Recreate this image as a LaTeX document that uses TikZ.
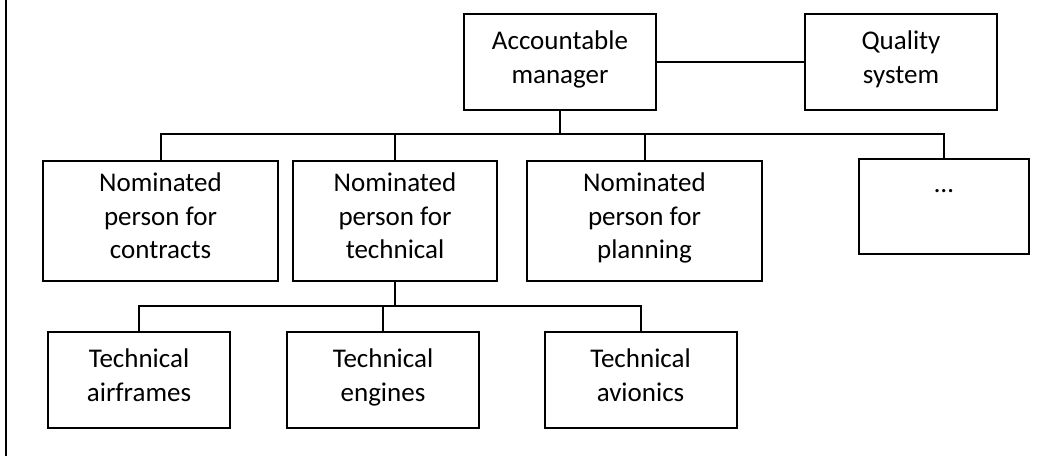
\documentclass[tikz,border=0pt]{standalone}
\usepackage{fontspec}
\setmainfont{Carlito}
\usepackage{tikz}
\tikzset{
	% box styles for the organisation chart
	org box/.style={rectangle,draw,line width=1pt,align=center,inner sep=0,
		execute at begin node=\strut, execute at end node=\strut},
	top box/.style={org box,minimum width=96pt,minimum height=48pt},
	mid box/.style={org box,minimum height=60pt},
	low box/.style={org box,minimum width=96pt,minimum height=48pt},
	link/.style={line width=1pt}
}

\begin{document}
\begin{tikzpicture}[x=0.5pt, y=-0.5pt, font=\fontsize{13.5}{16.8}\selectfont]
  \useasboundingbox (0,0) rectangle (1053,456);
  \draw[line width=1pt] (6,0) -- (6,456);

  \node(am) at (560, 62) [top box]{Accountable\\manager};
  \node(qs) at (901, 62) [top box]{Quality\\system};
  \draw[link] (am.east) -- (qs.west);

  \node(contracts) at (160.5, 221) [mid box, minimum width=117.5pt]{Nominated\\person for\\contracts};
  \node(technical) at (395, 221) [mid box, minimum width=102pt]{Nominated\\person for\\technical};
  \node(planning) at (644.5, 221) [mid box, minimum width=117.5pt]{Nominated\\person for\\planning};
  \node(dots) at (944, 206.5) [org box, minimum width=85pt, minimum height=47.5pt]{…\\[-6pt]\mbox{}};

  \coordinate(bus1) at (560, 134);
  \draw[link] (am.south) -- (bus1);
  \foreach \n in {contracts, technical, planning, dots}
    \draw[link] (bus1) -| (\n.north);

  \node(airframes) at (139, 380) [low box, minimum width=91pt]{Technical\\airframes};
  \node(engines) at (383, 380) [low box]{Technical\\engines};
  \node(avionics) at (640.5, 380) [low box]{Technical\\avionics};

  \coordinate(bus2) at (395, 306);
  \draw[link] (technical.south) -- (bus2);
  \foreach \n in {airframes, engines, avionics}
    \draw[link] (bus2) -| (\n.north);

\end{tikzpicture}
\end{document}
